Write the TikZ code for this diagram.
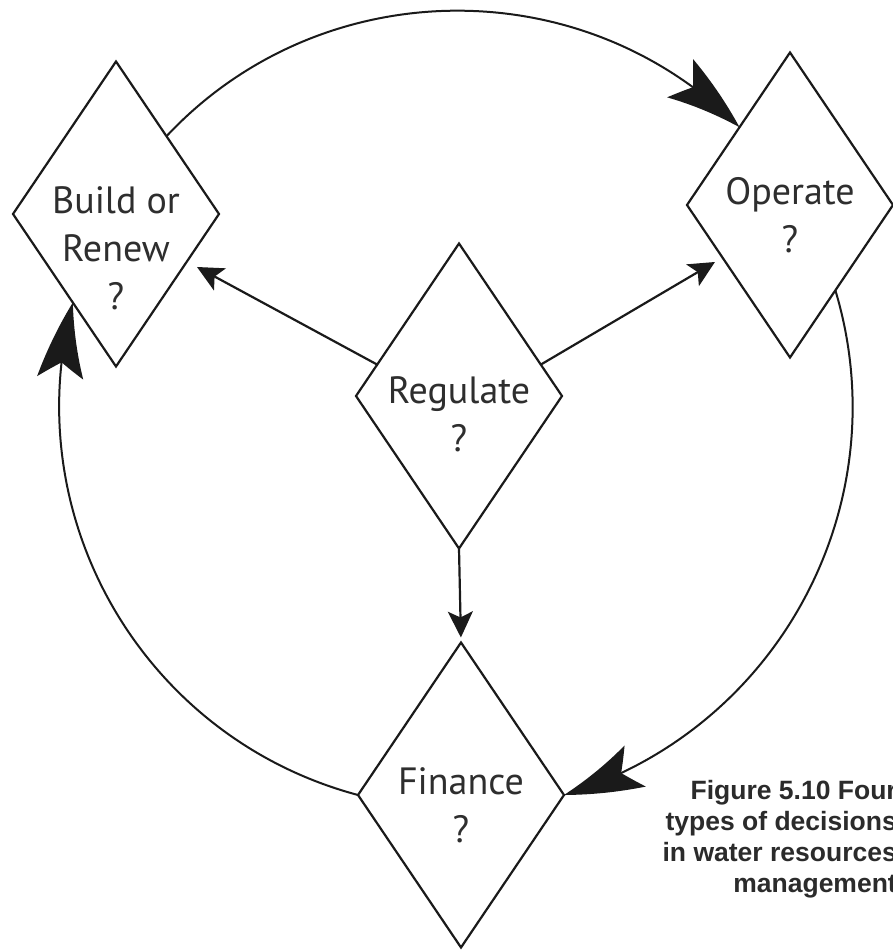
\documentclass[tikz,border=0pt]{standalone}
\usepackage{fontspec}
\setmainfont{PT Sans}
\newfontfamily\capfont{Liberation Sans}
\usetikzlibrary{arrows.meta,bending,shapes.geometric}
\definecolor{ink}{HTML}{1A1A1A}
\definecolor{labelgray}{HTML}{2E2E2E}
\definecolor{captiongray}{HTML}{2B2B2B}

\begin{document}
\begin{tikzpicture}[x=1pt,y=1pt,
  decision/.style={diamond, draw=ink, line width=2.2pt, minimum width=206pt,
    minimum height=305pt, inner sep=0pt, outer sep=0pt},
  lbl/.style={anchor=base, inner sep=0pt, text=labelgray,
    font=\fontsize{38}{48}\selectfont},
  flow/.style={draw=ink, line width=2.2pt,
    -{Stealth[length=26pt,width=25pt,inset=6pt]}},
  cyclearc/.style={draw=ink, line width=2pt,
    -{Stealth[length=78pt,width=46pt,inset=16pt,bend]}},
]
\fill[white] (0,0) rectangle (893,951);
\useasboundingbox (0,0) rectangle (893,951);
\clip (0,0) rectangle (893,951);

% the four decisions
\node[decision] (build)    at (116,737) {};
\node[decision] (operate)  at (790,746) {};
\node[decision] (regulate) at (459,555) {};
\node[decision] (finance)  at (461,156) {};

\node[lbl] (buildtxt) at (build.center)
  {\begin{tabular}[t]{@{}c@{}}Build or\\Renew\\?\end{tabular}};
\node[lbl] (operatetxt) at (operate.center)
  {\begin{tabular}[t]{@{}c@{}}Operate\\?\end{tabular}};
\node[lbl, yshift=-8pt] (regulatetxt) at (regulate.center)
  {\begin{tabular}[t]{@{}c@{}}Regulate\\?\end{tabular}};
\node[lbl] (financetxt) at (finance.center)
  {\begin{tabular}[t]{@{}c@{}}Finance\\?\end{tabular}};

% regulation acts on the other three
\coordinate (bIn) at (197,684);
\coordinate (oIn) at (715,689);
\draw[flow] (regulate.159) -- (bIn);
\draw[flow] (regulate.21) -- (oIn);
\draw[flow, shorten >=5pt] (regulate.south) -- (finance.north);

% the outer cycle
\draw[cyclearc] (build.57) to[bend left=46] (operate.123);
\draw[cyclearc] (operate.298) to[bend left=45] (finance.east);
\draw[cyclearc] (finance.west) to[bend left=45] (build.244);

% caption
\node[anchor=base east, inner sep=0pt, text=captiongray,
  font=\capfont\bfseries\fontsize{26.5}{31}\selectfont] (caption) at (897,151)
  {\begin{tabular}[t]{@{}r@{}}Figure 5.10 Four\\types of decisions\\in water resources\\management\end{tabular}};
\end{tikzpicture}
\end{document}
